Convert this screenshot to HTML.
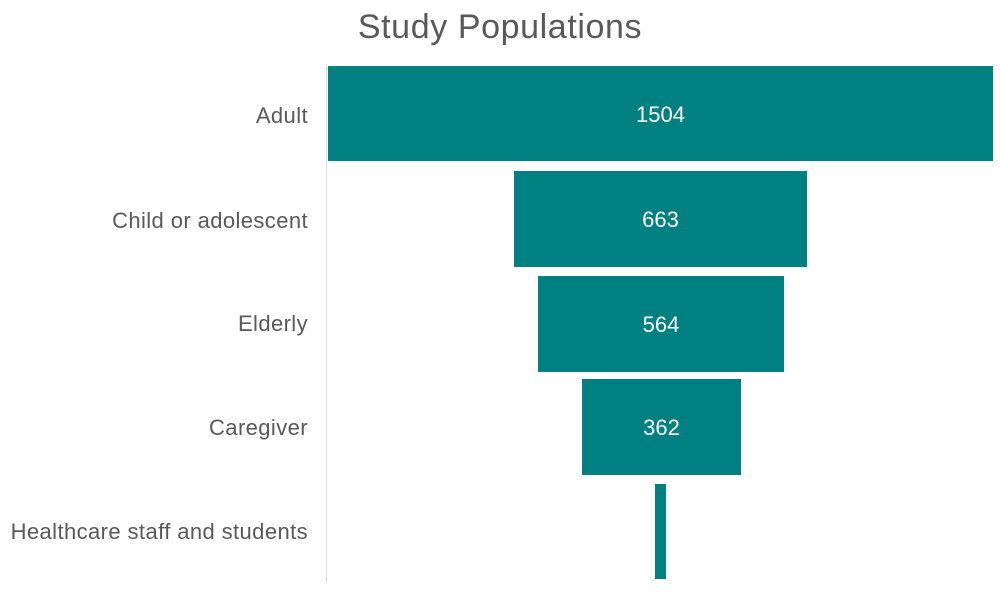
<!DOCTYPE html>
<html><head><style>
body{margin:0;background:#fff;width:1000px;height:599px;overflow:hidden;position:relative;font-family:"Liberation Sans",sans-serif;}
.t{position:absolute;left:0;width:1000px;top:6px;text-align:center;font-size:34px;letter-spacing:0.6px;color:#595959;line-height:42px;}
.l{position:absolute;right:692px;font-size:22px;letter-spacing:0.4px;color:#595959;white-space:nowrap;line-height:24px;}
.b{position:absolute;background:#008080;color:#fff;font-size:22px;display:flex;align-items:center;justify-content:center;padding-top:2px;box-sizing:border-box;}
.ax{position:absolute;left:326px;top:66px;width:1px;height:516px;background:#d9d9d9;}
</style></head><body>
<div class="t">Study Populations</div>
<div class="ax"></div>
<div class="b" style="left:328px;top:66px;width:665px;height:95px">1504</div>
<div class="b" style="left:514px;top:171px;width:293px;height:96px">663</div>
<div class="b" style="left:538px;top:276px;width:246px;height:96px">564</div>
<div class="b" style="left:582px;top:379px;width:159px;height:96px">362</div>
<div class="b" style="left:655px;top:484px;width:11px;height:95px"></div>
<div class="l" style="top:104px">Adult</div>
<div class="l" style="top:209px">Child or adolescent</div>
<div class="l" style="top:312px">Elderly</div>
<div class="l" style="top:416px">Caregiver</div>
<div class="l" style="top:520px">Healthcare staff and students</div>
</body></html>
